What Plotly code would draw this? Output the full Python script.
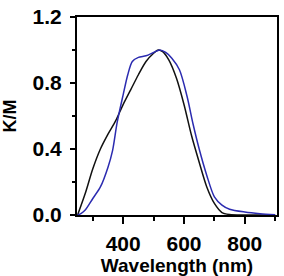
import plotly.graph_objects as go

wl_black = [250, 275, 300, 325, 350, 375, 400, 425, 450, 475, 500, 515, 530, 550, 575, 600, 625, 650, 675, 700, 725, 750, 800, 900]
km_black = [0.0, 0.13, 0.28, 0.40, 0.49, 0.57, 0.67, 0.76, 0.85, 0.93, 0.98, 1.0, 0.99, 0.94, 0.83, 0.67, 0.48, 0.32, 0.17, 0.07, 0.015, 0.003, 0.0, 0.0]

wl_blue = [250, 262, 275, 300, 325, 350, 365, 380, 400, 415, 430, 450, 475, 500, 520, 540, 560, 585, 610, 630, 650, 675, 700, 725, 750, 800, 850, 900]
km_blue = [0.0, 0.01, 0.03, 0.10, 0.17, 0.29, 0.39, 0.56, 0.73, 0.85, 0.93, 0.955, 0.965, 0.985, 1.0, 0.985, 0.95, 0.88, 0.72, 0.55, 0.40, 0.24, 0.11, 0.06, 0.035, 0.018, 0.008, 0.002]

font = dict(family="Liberation Sans, Arial, sans-serif", color="black", weight="bold")

fig = go.Figure()
fig.add_trace(go.Scatter(x=wl_black, y=km_black, mode="lines",
                         line=dict(color="#111111", width=1.5, shape="spline", smoothing=0.8)))
fig.add_trace(go.Scatter(x=wl_blue, y=km_blue, mode="lines",
                         line=dict(color="#2b2bb0", width=1.5, shape="spline", smoothing=0.8)))

fig.update_layout(
    width=284, height=276,
    margin=dict(l=77, r=5, t=14, b=61),
    paper_bgcolor="white", plot_bgcolor="white",
    showlegend=False,
    font=dict(size=17, **font),
)
fig.update_xaxes(
    range=[248, 906], tick0=0, dtick=200,
    showgrid=False, zeroline=False,
    showline=True, linecolor="black", linewidth=2, mirror=True,
    ticks="outside", ticklen=7, tickwidth=2, tickcolor="black",
    minor=dict(dtick=100, tick0=0, ticks="outside", ticklen=4, tickwidth=2, tickcolor="black", showgrid=False),
    tickfont=dict(size=21, **font), ticklabelstandoff=2,
    title=dict(text="Wavelength (nm)", font=dict(size=19, **font), standoff=0),
)
fig.update_yaxes(
    range=[0, 1.2], tick0=0, dtick=0.4, tickformat=".1f",
    showgrid=False, zeroline=False,
    showline=True, linecolor="black", linewidth=2, mirror=True,
    ticks="outside", ticklen=5, tickwidth=2, tickcolor="black",
    minor=dict(dtick=0.2, tick0=0, ticks="outside", ticklen=3, tickwidth=2, tickcolor="black", showgrid=False),
    tickfont=dict(size=21, **font), ticklabelstandoff=4,
    title=dict(text="K/M", font=dict(size=18, **font), standoff=12),
)
fig.write_html("out.html")
